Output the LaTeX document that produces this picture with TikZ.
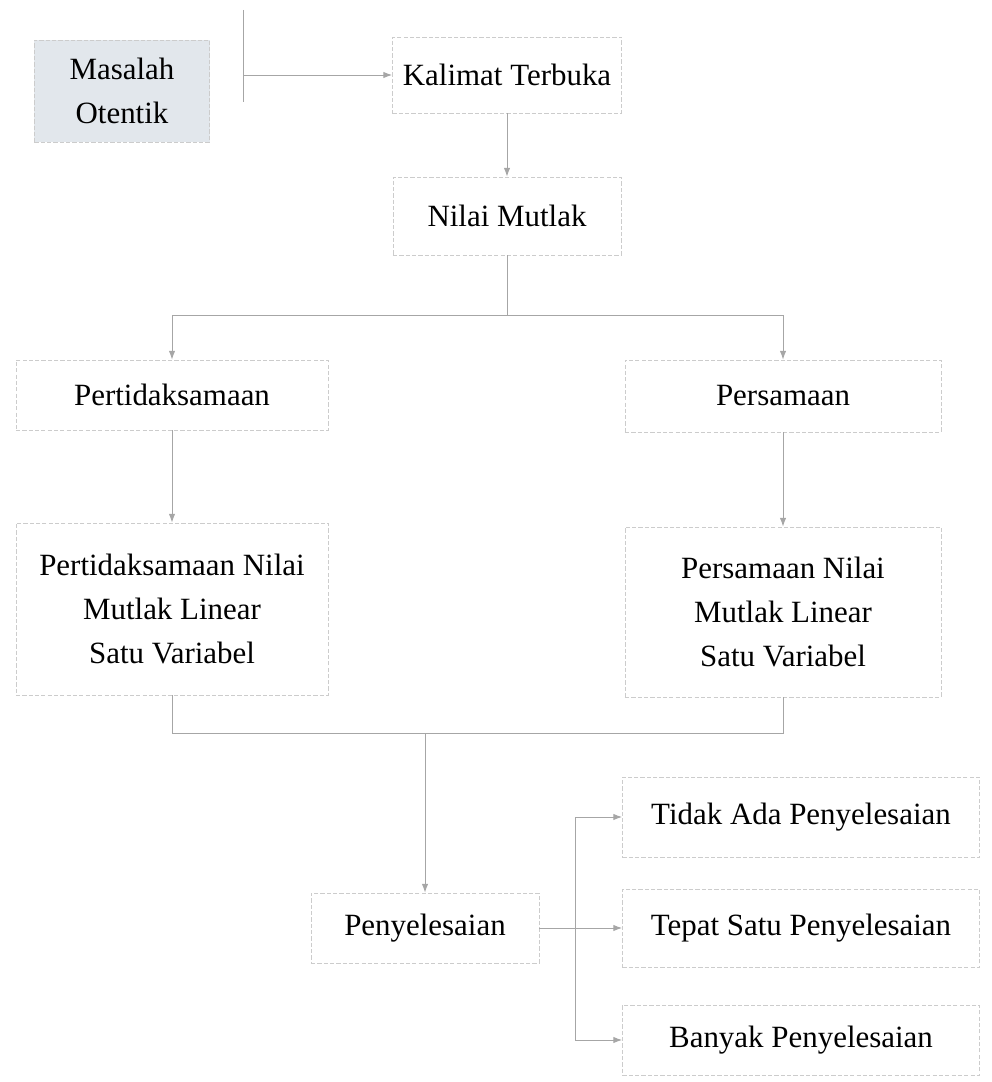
\documentclass[tikz,border=0pt]{standalone}
\usepackage{fontspec}
\setmainfont{Liberation Serif}
\usetikzlibrary{arrows.meta}
\definecolor{masfill}{RGB}{226,231,236}
\begin{document}
\begin{tikzpicture}[x=0.025cm,y=-0.025cm,
  font=\fontsize{22}{31}\selectfont,
  box/.style={draw=gray!40, dash pattern=on 3pt off 1.5pt, align=center, inner sep=0pt},
  link/.style={draw=gray!70, line width=0.7pt},
  tip/.style={-{Latex[length=2.2mm,width=1.6mm]}}]
\useasboundingbox (0,0) rectangle (991,1082);
\node[box, fill=masfill, minimum width=4.375cm, minimum height=2.55cm] (mas) at (122,91) {Masalah\\Otentik};
\node[box, minimum width=5.725cm, minimum height=1.9cm] (kal) at (507,75) {Kalimat Terbuka};
\node[box, minimum width=5.7cm, minimum height=1.95cm] (nil) at (507,216) {Nilai Mutlak};
\node[box, minimum width=7.8cm, minimum height=1.75cm] (pert) at (172,395) {Pertidaksamaan};
\node[box, minimum width=7.9cm, minimum height=1.8cm] (pers) at (783,396) {Persamaan};
\node[box, minimum width=7.8cm, minimum height=4.3cm] (pnml) at (172,609) {Pertidaksamaan Nilai\\Mutlak Linear\\Satu Variabel};
\node[box, minimum width=7.9cm, minimum height=4.25cm] (pnm) at (783,612) {Persamaan Nilai\\Mutlak Linear\\Satu Variabel};
\node[box, minimum width=5.7cm, minimum height=1.75cm] (pen) at (425,928) {Penyelesaian};
\node[box, minimum width=8.925cm, minimum height=2cm] (tid) at (801,817) {Tidak Ada Penyelesaian};
\node[box, minimum width=8.925cm, minimum height=1.95cm] (tep) at (801,928) {Tepat Satu Penyelesaian};
\node[box, minimum width=8.925cm, minimum height=1.75cm] (ban) at (801,1040) {Banyak Penyelesaian};
\coordinate (tk1) at (243,10);
\coordinate (tk2) at (243,102);
\coordinate (tk) at (243,75);
\coordinate (jt) at (507,315);
\coordinate (jb) at (425,733);
\coordinate (jr) at (575,928);
% atas
\path[link] (tk1) -- (tk2);
\path[link,tip] (tk) -- (kal.west);
\path[link,tip] (kal.south) -- (nil.south |- nil.north);
\path[link] (nil.south) -- (jt);
\path[link,tip] (jt) -| (pert.north);
\path[link,tip] (jt) -| (pers.north);
% tengah
\path[link,tip] (pert.south) -- (pnml.north);
\path[link,tip] (pers.south) -- (pnm.north);
\path[link] (pnml.south) |- (jb);
\path[link] (pnm.south) |- (jb);
\path[link,tip] (jb) -- (pen.north);
% bawah
\path[link,tip] (pen.east) -- (tep.west);
\path[link,tip] (jr) |- (tid.west);
\path[link,tip] (jr) |- (ban.west);
\end{tikzpicture}
\end{document}
